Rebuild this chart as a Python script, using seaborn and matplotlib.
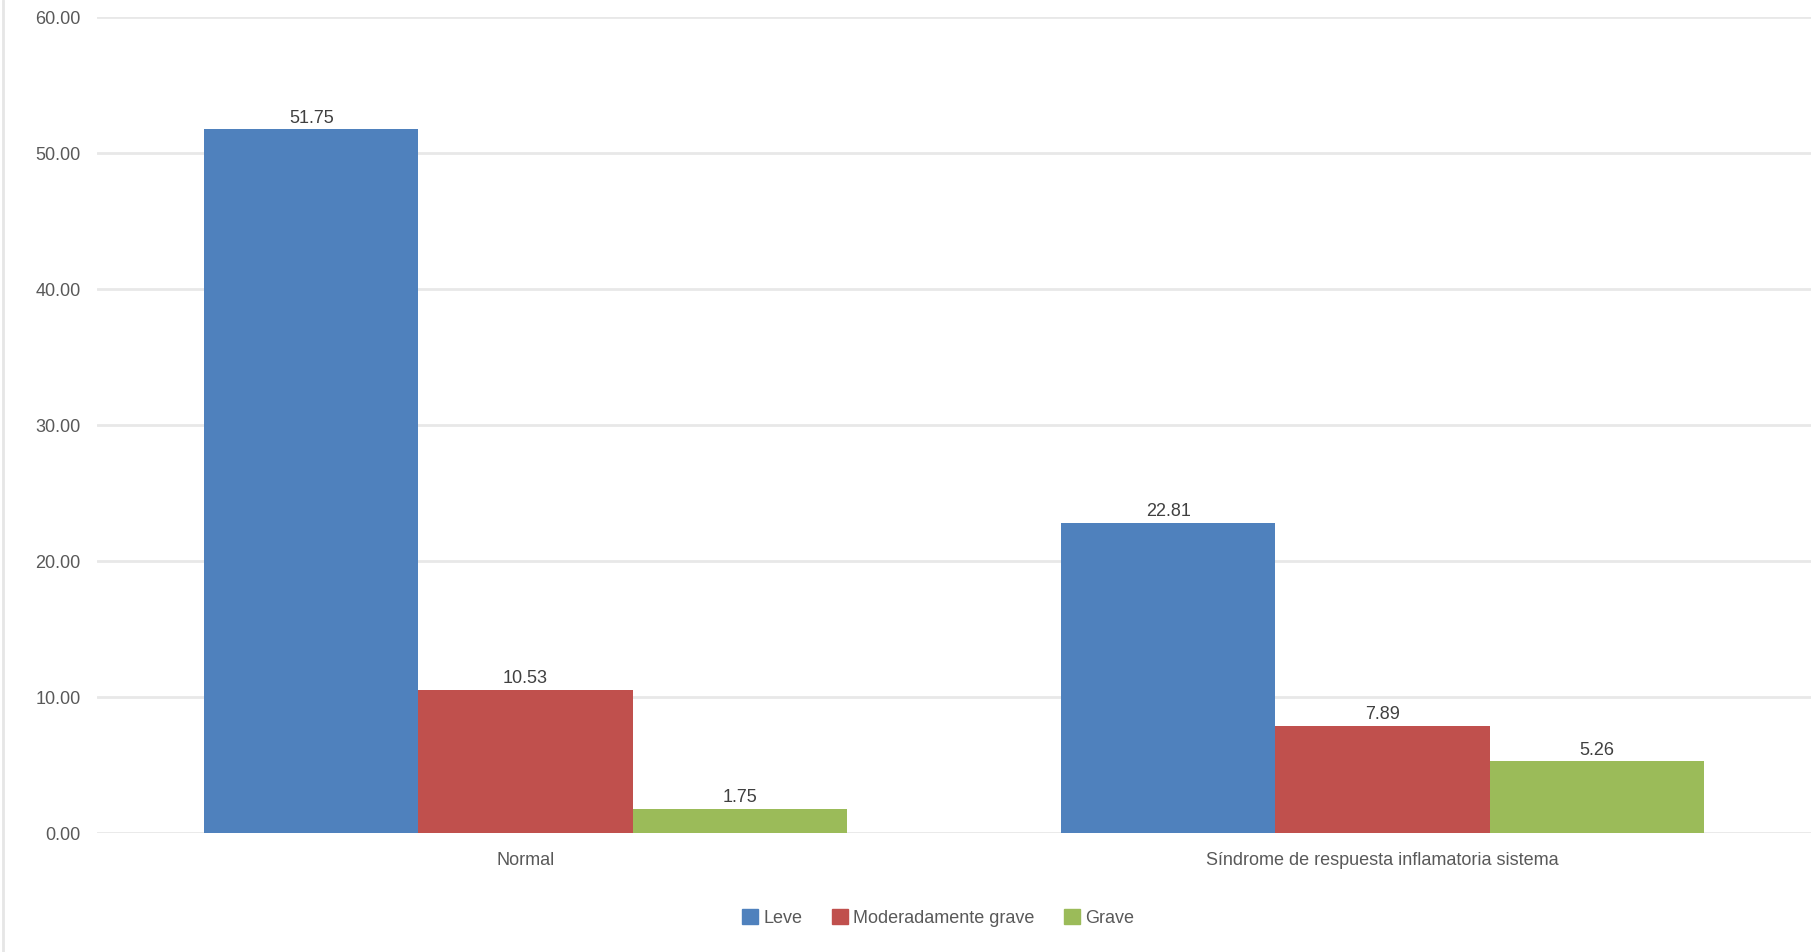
import pandas as pd
import seaborn as sns
import matplotlib.pyplot as plt
from matplotlib.lines import Line2D

categorias = ['Normal', 'Síndrome de respuesta inflamatoria sistema']
grupos = ['Leve', 'Moderadamente grave', 'Grave']
leve = [51.75, 22.81]
moderada = [10.53, 7.89]
grave = [1.75, 5.26]
colores = ['#4F81BD', '#C0504D', '#9BBB59']

df = pd.DataFrame({
    'categoria': categorias * 3,
    'grupo': [g for g in grupos for _ in categorias],
    'valor': leve + moderada + grave,
})

sns.set_style('white')
plt.rcParams['font.family'] = ['Liberation Sans', 'DejaVu Sans']
gris = '#595959'

fig = plt.figure(figsize=(18.11, 9.52), dpi=100)
ax = fig.add_axes([0.0536, 0.125, 0.9464, 0.857])

sns.barplot(data=df, x='categoria', y='valor', hue='grupo', hue_order=grupos,
            palette=colores, width=0.75, gap=0, saturation=1, linewidth=0,
            ax=ax, legend=True)

for cont in ax.containers:
    ax.bar_label(cont, fmt='%.2f', padding=2, fontsize=13, color='#404040')

ax.set_ylim(0, 60)
ax.set_xlim(-0.5, 1.5)
ax.set_yticks(range(0, 61, 10))
ax.set_yticklabels([f'{v:.2f}' for v in range(0, 61, 10)])
ax.yaxis.grid(True, color='#E8E8E8', linewidth=2)
ax.set_axisbelow(True)
for s in ax.spines.values():
    s.set_visible(False)
ax.tick_params(axis='y', length=0, pad=12, labelsize=13, labelcolor=gris)
ax.tick_params(axis='x', length=0, pad=14, labelsize=13, labelcolor=gris)
ax.set_xlabel('')
ax.set_ylabel('')

ax.legend_.remove()
handles = [plt.Rectangle((0, 0), 1, 1, color=c) for c in colores]
fig.legend(handles, grupos, loc='center', bbox_to_anchor=(0.518, 0.036), ncol=3,
           frameon=False, fontsize=13, labelcolor=gris, handlelength=0.9,
           handleheight=0.9, handletextpad=0.3, columnspacing=1.6)

fig.add_artist(Line2D([3 / 1811, 3 / 1811], [0, 1], color='#E6E6E6', linewidth=2))

fig.savefig('out.png', dpi=100)
